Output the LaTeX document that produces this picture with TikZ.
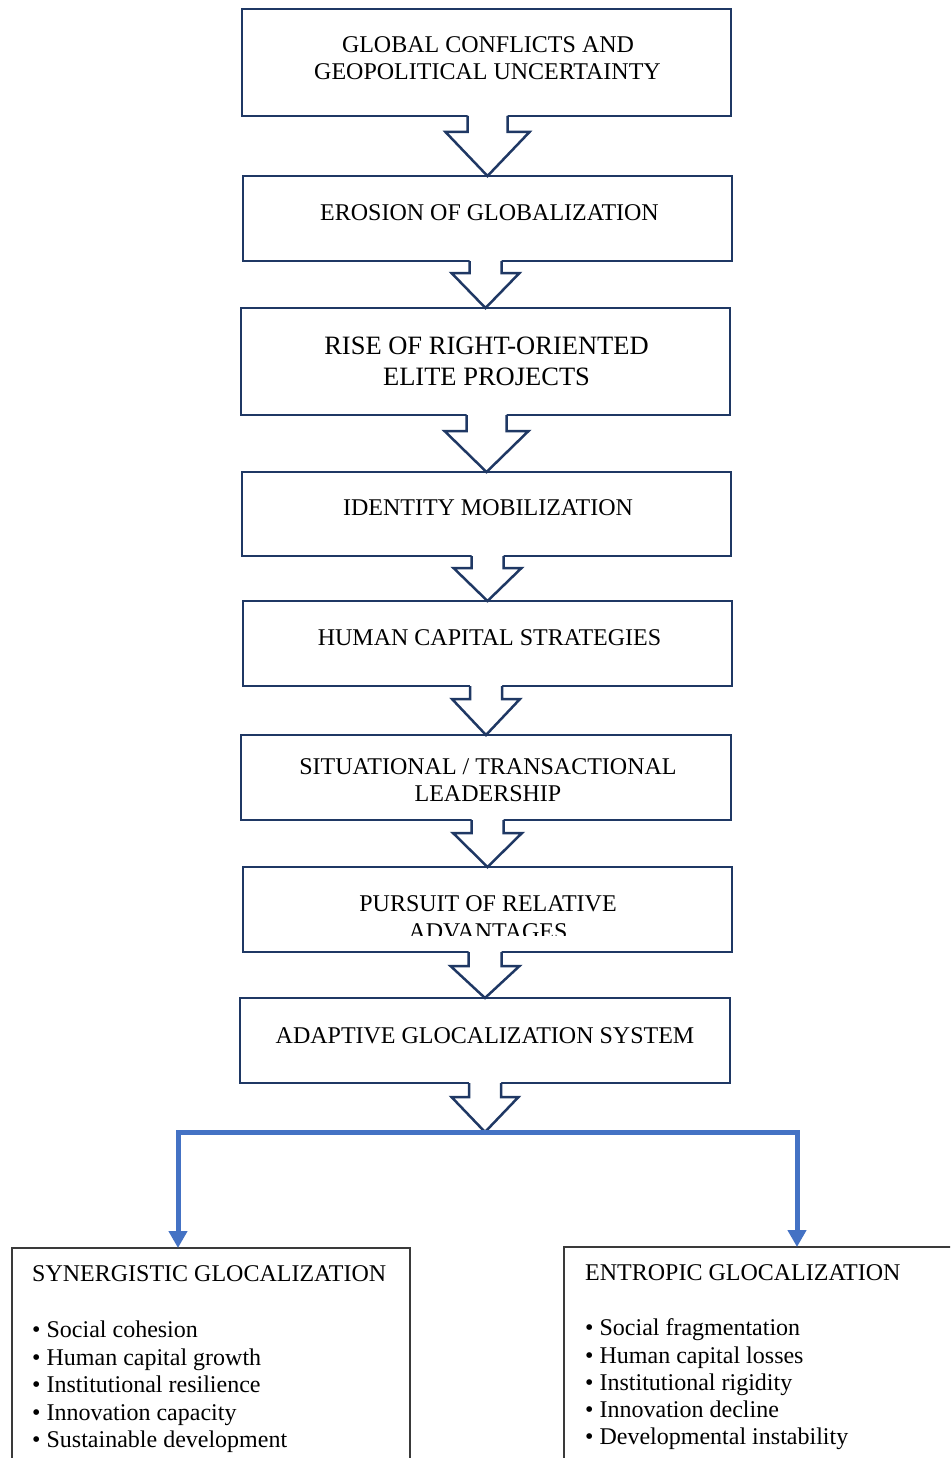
\documentclass[tikz,border=0pt]{standalone}
\usepackage{fontspec}
\setmainfont{Liberation Serif}
\usetikzlibrary{arrows.meta,calc}
\definecolor{navy}{HTML}{1F3864}
\definecolor{flowblue}{HTML}{4472C4}
\definecolor{framegray}{HTML}{3A3A3A}
% #1 source node, #2 target point, #3 half shaft width, #4 half head width, #5 head offset below source
\newcommand\blockarrow[5]{%
  \fill[white] let \p1=(#1.south), \p2=(#2) in
    (\x2-#3pt,\y1+2pt) -- (\x2-#3pt,\y1-#5pt) -- (\x2-#4pt,\y1-#5pt) -- (\x2,\y2)
    -- (\x2+#4pt,\y1-#5pt) -- (\x2+#3pt,\y1-#5pt) -- (\x2+#3pt,\y1+2pt) -- cycle;
  \draw[arrline] let \p1=(#1.south), \p2=(#2) in
    (\x2-#3pt,\y1) -- (\x2-#3pt,\y1-#5pt) -- (\x2-#4pt,\y1-#5pt) -- (\x2,\y2)
    -- (\x2+#4pt,\y1-#5pt) -- (\x2+#3pt,\y1-#5pt) -- (\x2+#3pt,\y1);
}
\begin{document}
\begin{tikzpicture}[x=1pt,y=-1pt,
  fbox/.style={draw=navy, line width=2.5pt, inner sep=0pt, outer sep=0pt, rectangle},
  arrline/.style={draw=navy, line width=2.5pt, line join=miter},
  lbl/.style={anchor=base, inner sep=0pt, font=\fontsize{24}{28}\selectfont},
  lblbig/.style={anchor=base, inner sep=0pt, font=\fontsize{26.5}{31}\selectfont},
  lst/.style={anchor=base west, inner sep=0pt, font=\fontsize{24}{28}\selectfont},
  obox/.style={draw=framegray, line width=1.4pt, inner sep=0pt, outer sep=0pt, anchor=north west, rectangle},
  bluelink/.style={draw=flowblue, line width=5pt, line join=miter, -{Triangle[width=18pt,length=17pt]}}
]
\clip (0,0) rectangle (950,1458);
\fill[white] (0,0) rectangle (950,1458);

% flow boxes
\node[fbox, minimum width=489pt, minimum height=107pt] (b1) at (486.5,62.5) {};
\node[fbox, minimum width=489pt, minimum height=85pt]  (b2) at (487.5,218.5) {};
\node[fbox, minimum width=489pt, minimum height=107pt] (b3) at (485.5,361.5) {};
\node[fbox, minimum width=489pt, minimum height=84pt]  (b4) at (486.5,514) {};
\node[fbox, minimum width=489pt, minimum height=85pt]  (b5) at (487.5,643.5) {};
\node[fbox, minimum width=490pt, minimum height=85pt]  (b6) at (486,777.5) {};
\node[fbox, minimum width=489pt, minimum height=85pt]  (b7) at (487.5,909.5) {};
\node[fbox, minimum width=490pt, minimum height=85pt]  (b8) at (485,1040.5) {};

% texts
\node[lbl] (t1a) at (488,53) {GLOBAL CONFLICTS AND};
\node[lbl] (t1b) at (487.5,80) {GEOPOLITICAL UNCERTAINTY};
\node[lbl] (t2) at (489.5,220) {EROSION OF GLOBALIZATION};
\node[lblbig] (t3a) at (486.5,354) {RISE OF RIGHT-ORIENTED};
\node[lblbig] (t3b) at (486.5,385) {ELITE PROJECTS};
\node[lbl] (t4) at (488,515) {IDENTITY MOBILIZATION};
\node[lbl] (t5) at (489.5,645) {HUMAN CAPITAL STRATEGIES};
\node[lbl] (t6a) at (488,774) {SITUATIONAL / TRANSACTIONAL};
\node[lbl] (t6b) at (488,801) {LEADERSHIP};
\node[lbl] (t7a) at (488,911) {PURSUIT OF RELATIVE};
\begin{scope}
  \clip (243,867) rectangle (732,935);
  \node[lbl] (t7b) at (488,939) {ADVANTAGES};
\end{scope}
\node[lbl] (t8) at (485,1043) {ADAPTIVE GLOCALIZATION SYSTEM};

% block arrows
\coordinate (split) at (485,1132);
\blockarrow{b1}{b2.north}{20}{42}{16}
\blockarrow{b2}{b3.north}{16}{34}{12}
\blockarrow{b3}{b4.north}{20}{42}{16}
\blockarrow{b4}{b5.north}{16}{34}{12}
\blockarrow{b5}{b6.north}{16}{34}{13}
\blockarrow{b6}{b7.north}{16}{34.5}{13}
\blockarrow{b7}{b8.north}{16.5}{34.5}{14}
\blockarrow{b8}{split}{16}{33.5}{14}

% outcome boxes
\node[obox, minimum width=398pt, minimum height=240pt] (syn) at (12,1248) {};
\node[obox, minimum width=420pt, minimum height=240pt] (ent) at (564,1247) {};

% blue split
\coordinate (sL) at (178,1248);
\coordinate (sR) at (797,1247);
\draw[bluelink] (split) -| (sL);
\draw[bluelink] (split) -| (sR);

% outcome texts
\node[lst] (s0) at (32,1281) {SYNERGISTIC GLOCALIZATION};
\node[lst] (s1) at (32,1337) {• Social cohesion};
\node[lst] (s2) at (32,1365) {• Human capital growth};
\node[lst] (s3) at (32,1392) {• Institutional resilience};
\node[lst] (s4) at (32,1420) {• Innovation capacity};
\node[lst] (s5) at (32,1447) {• Sustainable development};

\node[lst] (e0) at (585,1280) {ENTROPIC GLOCALIZATION};
\node[lst] (e1) at (585,1335) {• Social fragmentation};
\node[lst] (e2) at (585,1363) {• Human capital losses};
\node[lst] (e3) at (585,1390) {• Institutional rigidity};
\node[lst] (e4) at (585,1417) {• Innovation decline};
\node[lst] (e5) at (585,1444) {• Developmental instability};
\end{tikzpicture}
\end{document}
